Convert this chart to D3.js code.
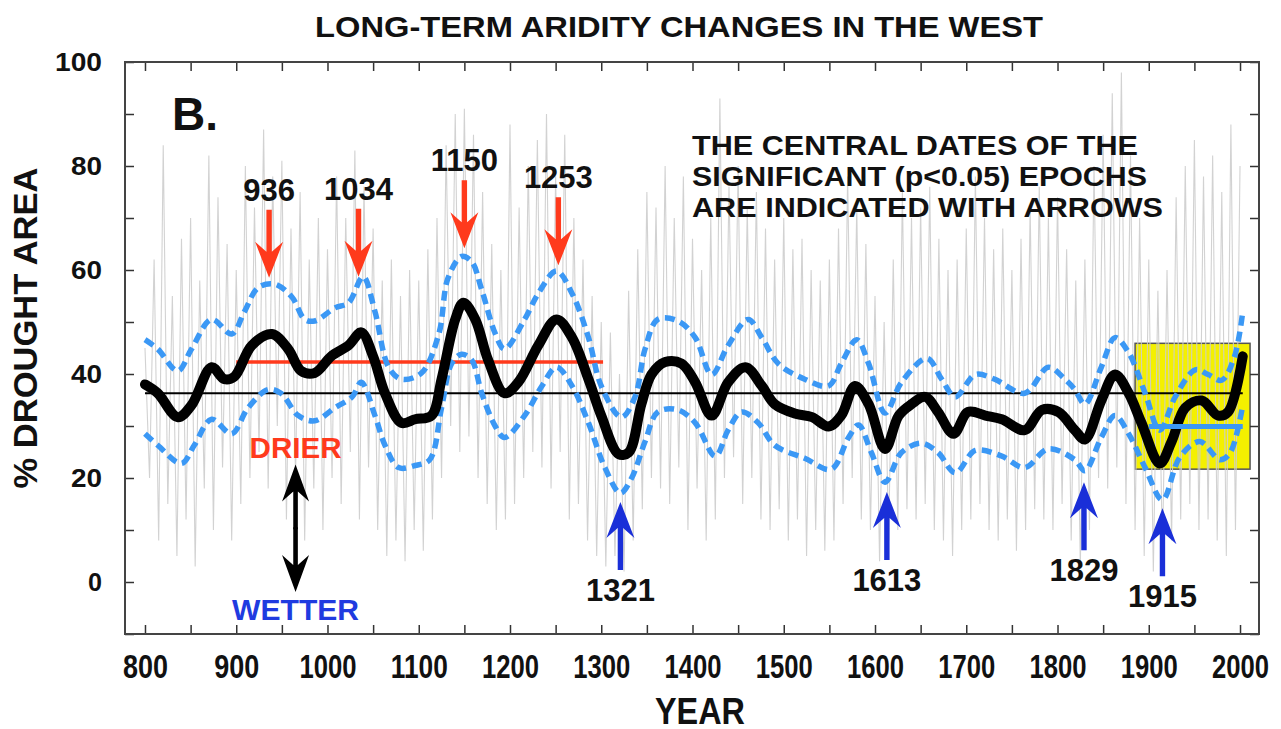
<!DOCTYPE html>
<html>
<head>
<meta charset="utf-8">
<script src="https://cdn.jsdelivr.net/npm/d3@7"></script>
<style>
  body { margin: 0; background: #fff; }
  svg { display: block; font-family: "Liberation Sans", Arial, Helvetica, sans-serif; font-weight: bold; }
</style>
</head>
<body>
<svg id="chart" width="1281" height="729"></svg>
<script>
// annual drought area, read every 5 years from 800 to 2000
const grayValues = [
  45, 20, 62, 8, 84, 15, 55, 5, 66, 12,
  70, 3, 58, 18, 82, 10, 74, 22, 65, 8,
  60, 15, 80, 20, 72, 25, 87, 18, 78, 30,
  81, 12, 68, 20, 75, 8, 62, 18, 70, 10,
  64, 20, 78, 15, 70, 25, 83, 12, 76, 22,
  68, 10, 58, 5, 62, 8, 55, 4, 60, 10,
  58, 6, 64, 12, 70, 20, 84, 30, 90, 25,
  91, 28, 86, 20, 75, 15, 65, 10, 60, 12,
  88, 15, 72, 20, 80, 25, 85, 22, 90, 18,
  78, 25, 86, 12, 70, 15, 62, 8, 55, 5,
  50, 3, 48, 5, 40, 2, 56, 8, 64, 14,
  75, 20, 72, 18, 80, 15, 70, 22, 78, 10,
  66, 18, 60, 8, 70, 12, 93, 20, 76, 24,
  80, 15, 72, 20, 75, 12, 68, 10, 62, 14,
  70, 8, 64, 12, 66, 5, 60, 10, 58, 6,
  62, 8, 68, 15, 78, 20, 72, 12, 65, 10,
  55, 4, 50, 8, 62, 10, 75, 14, 70, 12,
  72, 15, 76, 10, 66, 8, 60, 5, 62, 10,
  68, 12, 78, 15, 70, 10, 64, 8, 68, 12,
  60, 6, 66, 10, 72, 14, 76, 12, 70, 10,
  74, 15, 64, 8, 58, 3, 62, 10, 80, 20,
  86, 18, 94, 22, 98, 15, 82, 10, 70, 5,
  62, 2, 56, 5, 60, 8, 74, 12, 80, 15,
  85, 10, 78, 12, 82, 8, 75, 5, 88, 10,
  80
]
const grayStart = 800
const grayStep = 5

// smoothed series
const smoothYears = [800, 814, 836, 851, 873, 887, 898, 917, 939, 957, 971, 986, 1004, 1023, 1037, 1050, 1063, 1081, 1096, 1114, 1125, 1140, 1149, 1162, 1176, 1194, 1209, 1231, 1251, 1268, 1286, 1300, 1319, 1330, 1344, 1355, 1370, 1388, 1403, 1421, 1439, 1458, 1476, 1490, 1512, 1531, 1549, 1563, 1578, 1593, 1611, 1626, 1640, 1655, 1669, 1686, 1702, 1721, 1739, 1764, 1783, 1801, 1819, 1830, 1848, 1863, 1878, 1892, 1912, 1925, 1940, 1958, 1976, 1987, 2003]
const smoothValues = [38, 36.3, 31.7, 34, 41.3, 39, 39.5, 45.5, 47.7, 44.8, 40.6, 40.2, 43.4, 45.5, 48, 43.4, 36.3, 30.6, 31.3, 32, 39, 50.5, 53.7, 50.5, 42.7, 36.3, 38.4, 45.5, 50.5, 47, 39, 32, 24.6, 24.9, 34.2, 39.9, 42.3, 42, 38.4, 32, 38.4, 41.3, 37.7, 34.2, 32.4, 31.7, 29.9, 32, 37.7, 34.2, 25.6, 32, 34.2, 35.6, 32.7, 28.5, 32.7, 32, 31.3, 29.2, 33.1, 32.7, 29.2, 27.4, 34.9, 39.9, 36.3, 30.6, 22.8, 27, 33.5, 34.9, 32, 32.7, 43.4]

// confidence band (dashed)
const upperYears = [800, 814, 836, 851, 873, 895, 909, 924, 942, 961, 975, 986, 1008, 1023, 1039, 1052, 1067, 1081, 1103, 1122, 1132, 1147, 1158, 1169, 1184, 1194, 1216, 1231, 1251, 1268, 1286, 1300, 1322, 1337, 1348, 1362, 1384, 1403, 1421, 1439, 1461, 1476, 1494, 1523, 1549, 1563, 1580, 1593, 1611, 1629, 1657, 1673, 1688, 1710, 1731, 1764, 1790, 1808, 1819, 1830, 1848, 1863, 1878, 1896, 1912, 1929, 1951, 1965, 1980, 1994, 2003]
const upperValues = [46.6, 44.8, 40.6, 44.8, 50.5, 47.7, 52, 56.6, 57.3, 54.8, 50.5, 50.2, 52.7, 53.7, 58.7, 52, 41.3, 39, 40.2, 47.7, 58.4, 62.6, 61.6, 56.2, 47.7, 44.8, 50.5, 55.5, 59.8, 55.5, 47, 37.7, 31.7, 35.6, 44.8, 50.5, 50.2, 47, 39.9, 45.5, 50.5, 47, 42, 39, 37.7, 42, 46.6, 42, 32.5, 38.4, 43, 39, 35.6, 39.9, 39, 36.3, 41.3, 39, 37, 34.2, 41.3, 47, 44.1, 36.3, 29.2, 35.6, 40.8, 39.9, 38.8, 43.4, 52]
const lowerYears = [800, 814, 840, 854, 873, 895, 913, 935, 949, 968, 986, 1008, 1027, 1037, 1052, 1063, 1078, 1096, 1112, 1125, 1136, 1147, 1158, 1169, 1184, 1194, 1216, 1235, 1251, 1268, 1286, 1304, 1321, 1333, 1348, 1362, 1384, 1403, 1425, 1439, 1454, 1472, 1490, 1523, 1552, 1571, 1582, 1596, 1611, 1629, 1651, 1669, 1688, 1710, 1739, 1764, 1790, 1819, 1830, 1848, 1863, 1878, 1896, 1915, 1934, 1956, 1978, 1989, 2003]
const lowerValues = [28.5, 26.3, 22.8, 26.3, 31.3, 28.5, 33.5, 37, 36.3, 32, 31, 33.5, 35.6, 38.4, 32, 26.3, 22, 22.4, 23.5, 33.5, 42, 43.8, 42.7, 36.3, 29.9, 27.8, 32, 37.7, 41.3, 37.7, 30.6, 22, 17.1, 19.9, 27, 32.7, 33.1, 30.6, 24.2, 29.2, 32.7, 30.6, 26.3, 23.8, 21.7, 27.8, 30.2, 24.9, 19.2, 24.9, 26.7, 24.9, 21, 25.3, 24.2, 22, 25.6, 23.5, 21.4, 27.8, 32, 28.5, 22, 15.8, 24, 27, 23.5, 24.8, 34]

// period means
const longMean = 36.3
const longMeanSpan = [800, 2003]
const medievalMean = 42.3
const medievalSpan = [900, 1302]
const modernMean = 29.9
const modernSpan = [1900, 2003]
const modernBoxYears = [1885, 2011]
const modernBoxValues = [21.7, 45.9]

// significant epochs
const dryEpochs = ['936', '1034', '1150', '1253']
const dryTips = [58.5, 58.7, 64.2, 60.9]
const wetEpochs = ['1321', '1613', '1829', '1915']
const wetTips = [15.4, 17.3, 19.2, 14.2]

const xTicks = d3.range(800, 2001, 50)
const yTicks = d3.range(-10, 101, 10)

const titleText = 'LONG-TERM ARIDITY CHANGES IN THE WEST'
const noteLines = ['THE CENTRAL DATES OF THE', 'SIGNIFICANT (p<0.05) EPOCHS', 'ARE INDICATED WITH ARROWS']

const plot = { left: 125, right: 1259, top: 62, bottom: 634 }

const x = d3.scaleLinear().domain([778.1, 2020.8]).range([plot.left, plot.right])
const y = d3.scaleLinear().domain([-10, 100]).range([plot.bottom, plot.top])

const red = '#ff3a1c'
const darkBlue = '#1a2fd8'
const lightBlue = '#3b98f5'

const svg = d3.select('#chart')

// title
svg.append('text')
  .attr('x', 679)
  .attr('y', 37)
  .attr('text-anchor', 'middle')
  .attr('font-size', 30)
  .attr('textLength', 728)
  .attr('lengthAdjust', 'spacingAndGlyphs')
  .attr('fill', '#111')
  .text(titleText)

// modern period box
svg.append('rect')
  .attr('x', x(modernBoxYears[0]))
  .attr('y', y(modernBoxValues[1]))
  .attr('width', x(modernBoxYears[1]) - x(modernBoxYears[0]))
  .attr('height', y(modernBoxValues[0]) - y(modernBoxValues[1]))
  .attr('fill', '#f4f000')
  .attr('stroke', '#555')
  .attr('stroke-width', 1.5)

// annual series
const grayLine = d3.line()
  .x((d, i) => x(grayStart + i * grayStep))
  .y(d => y(d))

svg.append('path')
  .datum(grayValues)
  .attr('d', grayLine)
  .attr('fill', 'none')
  .attr('stroke', '#cdcdcd')
  .attr('stroke-width', 1.1)
  .attr('opacity', 0.9)

// means
const flat = (span, v) => span.map(yr => [yr, v])
const straight = d3.line().x(d => x(d[0])).y(d => y(d[1]))

svg.append('path')
  .attr('d', straight(flat(longMeanSpan, longMean)))
  .attr('stroke', '#000')
  .attr('stroke-width', 2.2)

svg.append('path')
  .attr('d', straight(flat(medievalSpan, medievalMean)))
  .attr('stroke', red)
  .attr('stroke-width', 3.5)

// dashed bounds
const smooth = d3.line()
  .x(d => x(d[0]))
  .y(d => y(d[1]))
  .curve(d3.curveCatmullRom.alpha(0.5))

const zip = (a, b) => a.map((v, i) => [v, b[i]])

;[zip(upperYears, upperValues), zip(lowerYears, lowerValues)].forEach(pts => {
  svg.append('path')
    .datum(pts)
    .attr('d', smooth)
    .attr('fill', 'none')
    .attr('stroke', lightBlue)
    .attr('stroke-width', 5.5)
    .attr('stroke-dasharray', '10,6')
})

// smoothed series
svg.append('path')
  .datum(zip(smoothYears, smoothValues))
  .attr('d', smooth)
  .attr('fill', 'none')
  .attr('stroke', '#000')
  .attr('stroke-width', 10)
  .attr('stroke-linejoin', 'round')
  .attr('stroke-linecap', 'round')

svg.append('path')
  .attr('d', straight(flat(modernSpan, modernMean)))
  .attr('stroke', lightBlue)
  .attr('stroke-width', 5)

// axes: ticks only, inward on all sides
const tickLen = -9
const xBottom = svg.append('g')
  .attr('transform', `translate(0,${plot.bottom})`)
  .call(d3.axisBottom(x).tickValues(xTicks).tickSize(tickLen).tickSizeOuter(0).tickPadding(20)
    .tickFormat(d => d % 100 === 0 ? d : ''))
xBottom.selectAll('text')
  .attr('font-size', 34)
  .attr('font-family', '"Liberation Sans", Arial, sans-serif')
  .attr('font-weight', 'bold')
  .attr('fill', '#111')
  .filter(function () { return this.textContent !== '' })
  .attr('textLength', function () { return this.textContent.length === 3 ? 45 : 57 })
  .attr('lengthAdjust', 'spacingAndGlyphs')

svg.append('g')
  .attr('transform', `translate(0,${plot.top})`)
  .call(d3.axisTop(x).tickValues(xTicks).tickSize(tickLen).tickSizeOuter(0).tickFormat(''))

const yLeft = svg.append('g')
  .attr('transform', `translate(${plot.left},0)`)
  .call(d3.axisLeft(y).tickValues(yTicks).tickSize(tickLen).tickSizeOuter(0).tickPadding(23)
    .tickFormat(d => d >= 0 && d % 20 === 0 ? d : ''))
yLeft.selectAll('text')
  .attr('font-size', 26)
  .attr('font-family', '"Liberation Sans", Arial, sans-serif')
  .attr('font-weight', 'bold')
  .attr('fill', '#111')
  .filter(function () { return this.textContent !== '' })
  .attr('textLength', function () { return [0, 14, 31, 47][this.textContent.length] })
  .attr('lengthAdjust', 'spacingAndGlyphs')

svg.append('g')
  .attr('transform', `translate(${plot.right},0)`)
  .call(d3.axisRight(y).tickValues(yTicks).tickSize(tickLen).tickSizeOuter(0).tickFormat(''))

svg.selectAll('.domain').remove()
svg.selectAll('.tick line').attr('stroke', '#333').attr('stroke-width', 1.5)

svg.append('rect')
  .attr('x', plot.left)
  .attr('y', plot.top)
  .attr('width', plot.right - plot.left)
  .attr('height', plot.bottom - plot.top)
  .attr('fill', 'none')
  .attr('stroke', '#444')
  .attr('stroke-width', 2)

// axis titles
svg.append('text')
  .attr('transform', 'translate(37,328) rotate(-90)')
  .attr('text-anchor', 'middle')
  .attr('font-size', 33)
  .attr('textLength', 321)
  .attr('lengthAdjust', 'spacingAndGlyphs')
  .attr('fill', '#111')
  .text('% DROUGHT AREA')

svg.append('text')
  .attr('x', 700)
  .attr('y', 724)
  .attr('text-anchor', 'middle')
  .attr('font-size', 36)
  .attr('textLength', 90)
  .attr('lengthAdjust', 'spacingAndGlyphs')
  .attr('fill', '#111')
  .text('YEAR')

svg.append('text')
  .attr('x', 172)
  .attr('y', 130)
  .attr('font-size', 46)
  .attr('fill', '#111')
  .text('B.')

// note
svg.append('g')
  .selectAll('text')
  .data(noteLines)
  .join('text')
  .attr('x', 692)
  .attr('y', (d, i) => 155 + i * 31)
  .attr('font-size', 28)
  .attr('textLength', (d, i) => [446, 455, 471][i])
  .attr('lengthAdjust', 'spacingAndGlyphs')
  .attr('fill', '#111')
  .text(d => d)

// arrows
const arrowLen = 68
const arrowPath = (xp, yTail, yTip, head = 36, half = 14, notch = 10, w = 2.7) => {
  const dir = Math.sign(yTip - yTail)
  return `M${xp - w},${yTail} L${xp - w},${yTip - dir * (head - notch)} L${xp - half},${yTip - dir * head} ` +
    `L${xp},${yTip} L${xp + half},${yTip - dir * head} L${xp + w},${yTip - dir * (head - notch)} L${xp + w},${yTail} Z`
}

dryEpochs.forEach((yr, i) => {
  const xp = x(+yr)
  const tip = y(dryTips[i])
  svg.append('path').attr('d', arrowPath(xp, tip - arrowLen, tip)).attr('fill', red)
  svg.append('text')
    .attr('x', xp)
    .attr('y', tip - arrowLen - 9)
    .attr('text-anchor', 'middle')
    .attr('font-size', 31)
    .attr('fill', '#111')
    .text(yr)
})

wetEpochs.forEach((yr, i) => {
  const xp = x(+yr)
  const tip = y(wetTips[i])
  svg.append('path').attr('d', arrowPath(xp, tip + arrowLen, tip)).attr('fill', darkBlue)
  svg.append('text')
    .attr('x', xp)
    .attr('y', tip + arrowLen + 31)
    .attr('text-anchor', 'middle')
    .attr('font-size', 31)
    .attr('fill', '#111')
    .text(yr)
})

// drier / wetter legend
const legendYear = 965
svg.append('text')
  .attr('x', x(legendYear))
  .attr('y', y(23.8))
  .attr('text-anchor', 'middle')
  .attr('font-size', 29)
  .attr('textLength', 92)
  .attr('lengthAdjust', 'spacingAndGlyphs')
  .attr('fill', red)
  .text('DRIER')

const topTip = y(22.6)
const bottomTip = y(-1.9)
const mid = (topTip + bottomTip) / 2
svg.append('path').attr('d', arrowPath(x(legendYear), mid + 1, topTip, 37, 13.5, 10, 2.3)).attr('fill', '#000')
svg.append('path').attr('d', arrowPath(x(legendYear), mid - 1, bottomTip, 37, 13.5, 10, 2.3)).attr('fill', '#000')

svg.append('text')
  .attr('x', x(legendYear))
  .attr('y', y(-7.3))
  .attr('text-anchor', 'middle')
  .attr('font-size', 29)
  .attr('textLength', 127)
  .attr('lengthAdjust', 'spacingAndGlyphs')
  .attr('fill', '#1f3be0')
  .text('WETTER')
</script>
</body>
</html>
